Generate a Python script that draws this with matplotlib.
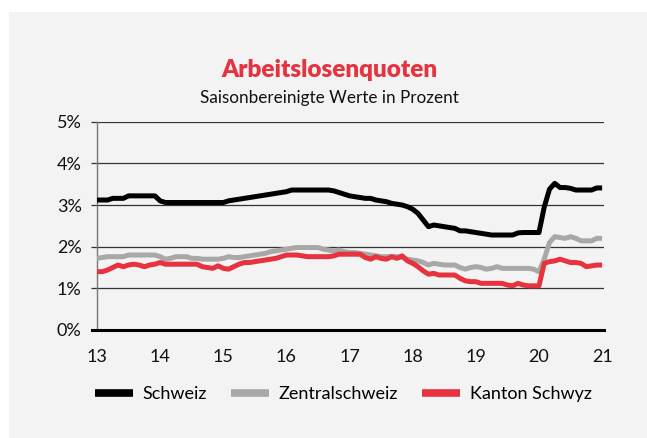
import numpy as np
import matplotlib
matplotlib.use("Agg")
import matplotlib.pyplot as plt

# ---------------- Daten (Monatswerte Jan 2013 – Jan 2021, in %) ----------------
schweiz = [
    3.12, 3.12, 3.12, 3.16, 3.16, 3.16, 3.22, 3.22, 3.22, 3.22, 3.22, 3.22,   # 2013
    3.10, 3.06, 3.06, 3.06, 3.06, 3.06, 3.06, 3.06, 3.06, 3.06, 3.06, 3.06,   # 2014
    3.06, 3.10, 3.12, 3.14, 3.16, 3.18, 3.20, 3.22, 3.24, 3.26, 3.28, 3.30,   # 2015
    3.32, 3.36, 3.36, 3.36, 3.36, 3.36, 3.36, 3.36, 3.36, 3.34, 3.30, 3.26,   # 2016
    3.22, 3.20, 3.18, 3.16, 3.16, 3.12, 3.10, 3.08, 3.04, 3.02, 3.00, 2.96,   # 2017
    2.90, 2.80, 2.64, 2.48, 2.52, 2.50, 2.48, 2.46, 2.44, 2.38, 2.38, 2.36,   # 2018
    2.34, 2.32, 2.30, 2.28, 2.28, 2.28, 2.28, 2.28, 2.33, 2.34, 2.34, 2.34,   # 2019
    2.34, 2.95, 3.38, 3.52, 3.42, 3.42, 3.40, 3.36, 3.36, 3.36, 3.36, 3.41,   # 2020
    3.41,                                                                     # 2021
]
zentralschweiz = [
    1.72, 1.74, 1.76, 1.76, 1.76, 1.76, 1.80, 1.80, 1.80, 1.80, 1.80, 1.80,
    1.76, 1.70, 1.72, 1.76, 1.76, 1.76, 1.72, 1.72, 1.70, 1.70, 1.70, 1.70,
    1.72, 1.76, 1.74, 1.74, 1.76, 1.78, 1.80, 1.82, 1.84, 1.88, 1.90, 1.92,
    1.94, 1.96, 1.98, 1.98, 1.98, 1.98, 1.98, 1.94, 1.92, 1.90, 1.92, 1.88,
    1.86, 1.86, 1.84, 1.82, 1.80, 1.78, 1.76, 1.76, 1.76, 1.76, 1.74, 1.70,
    1.68, 1.66, 1.62, 1.56, 1.60, 1.58, 1.56, 1.56, 1.56, 1.50, 1.46, 1.50,
    1.52, 1.50, 1.46, 1.48, 1.52, 1.48, 1.48, 1.48, 1.48, 1.48, 1.48, 1.46,
    1.40, 1.70, 2.10, 2.24, 2.22, 2.20, 2.24, 2.20, 2.14, 2.14, 2.14, 2.20,
    2.20,
]
kanton_schwyz = [
    1.40, 1.40, 1.44, 1.50, 1.56, 1.52, 1.56, 1.58, 1.56, 1.52, 1.56, 1.58,
    1.62, 1.58, 1.58, 1.58, 1.58, 1.58, 1.58, 1.58, 1.52, 1.50, 1.48, 1.54,
    1.48, 1.46, 1.52, 1.58, 1.62, 1.62, 1.64, 1.66, 1.68, 1.70, 1.72, 1.76,
    1.80, 1.80, 1.80, 1.78, 1.76, 1.76, 1.76, 1.76, 1.76, 1.78, 1.82, 1.82,
    1.82, 1.82, 1.82, 1.74, 1.70, 1.76, 1.72, 1.70, 1.76, 1.72, 1.78, 1.66,
    1.60, 1.52, 1.42, 1.34, 1.36, 1.32, 1.32, 1.32, 1.32, 1.24, 1.18, 1.16,
    1.16, 1.12, 1.12, 1.12, 1.12, 1.12, 1.08, 1.06, 1.12, 1.08, 1.06, 1.06,
    1.06, 1.60, 1.64, 1.66, 1.70, 1.66, 1.62, 1.62, 1.60, 1.52, 1.54, 1.56,
    1.56,
]
serien = ["Schweiz", "Zentralschweiz", "Kanton Schwyz"]
jahre = [13, 14, 15, 16, 17, 18, 19, 20, 21]
prozent = [0, 1, 2, 3, 4, 5]

# ---------------- Stil ----------------
farben = ["#000000", "#a8a8a6", "#e6333f"]
bg = "#f3f3f3"
plt.rcParams["font.family"] = ["Lato", "DejaVu Sans"]

x = 13 + np.arange(len(schweiz)) / 12

fig = plt.figure(figsize=(6.47, 4.38), dpi=100)
fig.patch.set_facecolor("white")
# graues Panel hinter allem
fig.patches.append(plt.Rectangle((9 / 647, 0), 1, 1 - 12 / 438,
                                 transform=fig.transFigure, facecolor=bg,
                                 edgecolor="none", zorder=-10))

ax = fig.add_axes([97 / 647, 1 - 330 / 438, (604 - 97) / 647, (330 - 121.7) / 438])
ax.set_facecolor("none")

for werte, name, c in zip([schweiz, zentralschweiz, kanton_schwyz], serien, farben):
    ax.plot(x, werte, color=c, lw=3.6, label=name, solid_capstyle="butt", zorder=3)

ax.set_xlim(13, 21.03)
ax.set_ylim(0, 5)
ax.set_yticks(prozent)
ax.set_yticklabels([f"{p}%" for p in prozent])
ax.set_xticks(jahre)
ax.set_xticklabels([str(j) for j in jahre])

for p in prozent[1:]:
    ax.axhline(p, color="#333333", lw=0.9, zorder=1)
ax.axhline(0, xmin=-5 / 507, color="black", lw=2.2, clip_on=False, zorder=4)

for s in ["top", "right", "bottom"]:
    ax.spines[s].set_visible(False)
ax.spines["left"].set_color("#777777")
ax.spines["left"].set_linewidth(1)

ax.tick_params(axis="y", length=4, width=0.9, color="#333333", pad=7,
               labelsize=13, labelcolor="#111111")
ax.tick_params(axis="x", length=0, pad=14, labelsize=13, labelcolor="#111111")

# Titel
fig.text(329 / 647, 1 - 70 / 438, "Arbeitslosenquoten", ha="center", va="center",
         fontsize=17.5, fontweight="heavy", color="#e6333f")
fig.text(329 / 647, 1 - 98 / 438, "Saisonbereinigte Werte in Prozent", ha="center",
         va="center", fontsize=12.3, color="#111111")

# Legende
leg = fig.legend(loc="center left", bbox_to_anchor=(95 / 647, 1 - 394 / 438),
                 ncol=3, frameon=False, fontsize=13, handlelength=2.1,
                 handletextpad=0.55, columnspacing=1.32, borderpad=0,
                 borderaxespad=0)
for h in leg.get_lines():
    h.set_linewidth(5.5)

fig.savefig("out.png", dpi=100, facecolor=fig.get_facecolor())
